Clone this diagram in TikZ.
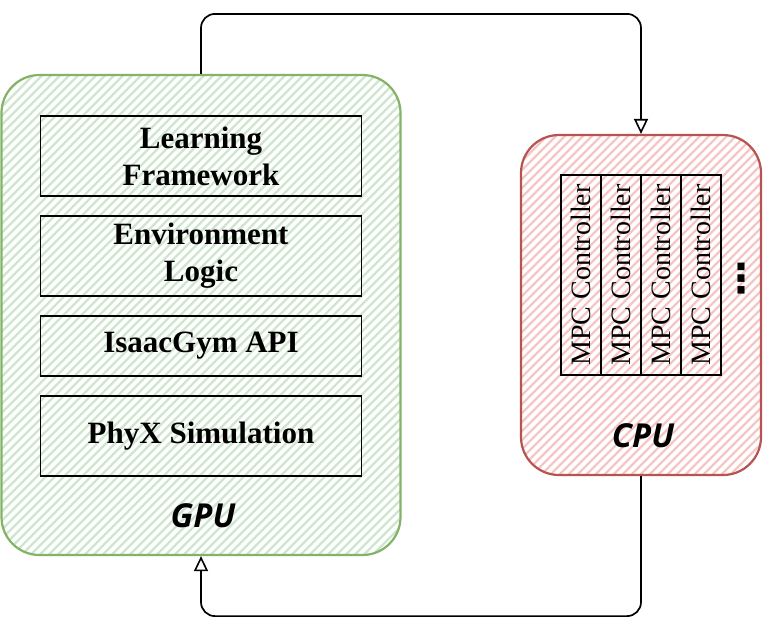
\documentclass[tikz,border=0pt]{standalone}
\usepackage{fontspec}
\setmainfont{Liberation Serif}
\newfontfamily\labfont{Open Sans}
\newfontfamily\symfont{DejaVu Sans}
\usetikzlibrary{arrows.meta,calc}
\definecolor{gstroke}{HTML}{82B366}
\definecolor{gfill}{HTML}{CFE5CD}
\definecolor{rstroke}{HTML}{B85450}
\definecolor{rfill}{HTML}{F6C6C4}
\tikzset{
  hatchbox/.style 2 args={draw=#1, line width=2.2pt, rounded corners=38pt, inner sep=0pt,
    path picture={\foreach \i in {-700,-691,...,500}
      \draw[#2, line width=2.2pt] ($(path picture bounding box.south west)+(\i pt,0)$) -- ++(700pt,700pt);}},
  layer/.style={draw=black, line width=1.3pt, minimum width=321pt, inner sep=0pt, align=center,
    font=\fontsize{31}{37}\selectfont\bfseries},
  mpc/.style={draw=black, line width=1.3pt, minimum width=200pt, minimum height=40pt, inner sep=0pt,
    rotate=90, font=\fontsize{28}{30}\selectfont},
  unitlabel/.style={font=\labfont\fontsize{33}{36}\selectfont\bfseries\itshape},
  link/.style={draw=black, line width=1.7pt, rounded corners=14pt,
    -{Triangle[open, length=15pt, width=14pt, line width=1.6pt]}},
}
\begin{document}
\begin{tikzpicture}[x=1pt,y=-1pt]
\useasboundingbox (0,0) rectangle (776,632);
% GPU
\node[hatchbox={gstroke}{gfill}, minimum width=399pt, minimum height=480pt] (gpu) at (201,315) {};
\node[layer, minimum height=80pt] (learn) at (201,156) {Learning\\Framework};
\node[layer, minimum height=80pt] (env) at (201,256) {Environment\\Logic};
\node[layer, minimum height=60pt] (isaac) at (201,346) {IsaacGym API};
\node[layer, minimum height=80pt] (phyx) at (201,436) {PhyX Simulation};
\node[unitlabel] (gpulab) at (203,516) {GPU};
% CPU
\node[hatchbox={rstroke}{rfill}, minimum width=240pt, minimum height=340pt] (cpu) at (641,305) {};
\node[mpc] (m1) at (581,275) {MPC Controller};
\node[mpc] (m2) at (621,275) {MPC Controller};
\node[mpc] (m3) at (661,275) {MPC Controller};
\node[mpc] (m4) at (701,275) {MPC Controller};
\node[inner sep=0pt] (dots) at (741,279) {\symfont\fontsize{40}{40}\selectfont\bfseries ⋮};
\node[unitlabel] (cpulab) at (643,436) {CPU};
% connectors
\draw[link] (gpu.north) -- ++(0,-60) -| (cpu.north);
\draw[link] (cpu.south) -- ++(0,140) -| (gpu.south);
\end{tikzpicture}
\end{document}
